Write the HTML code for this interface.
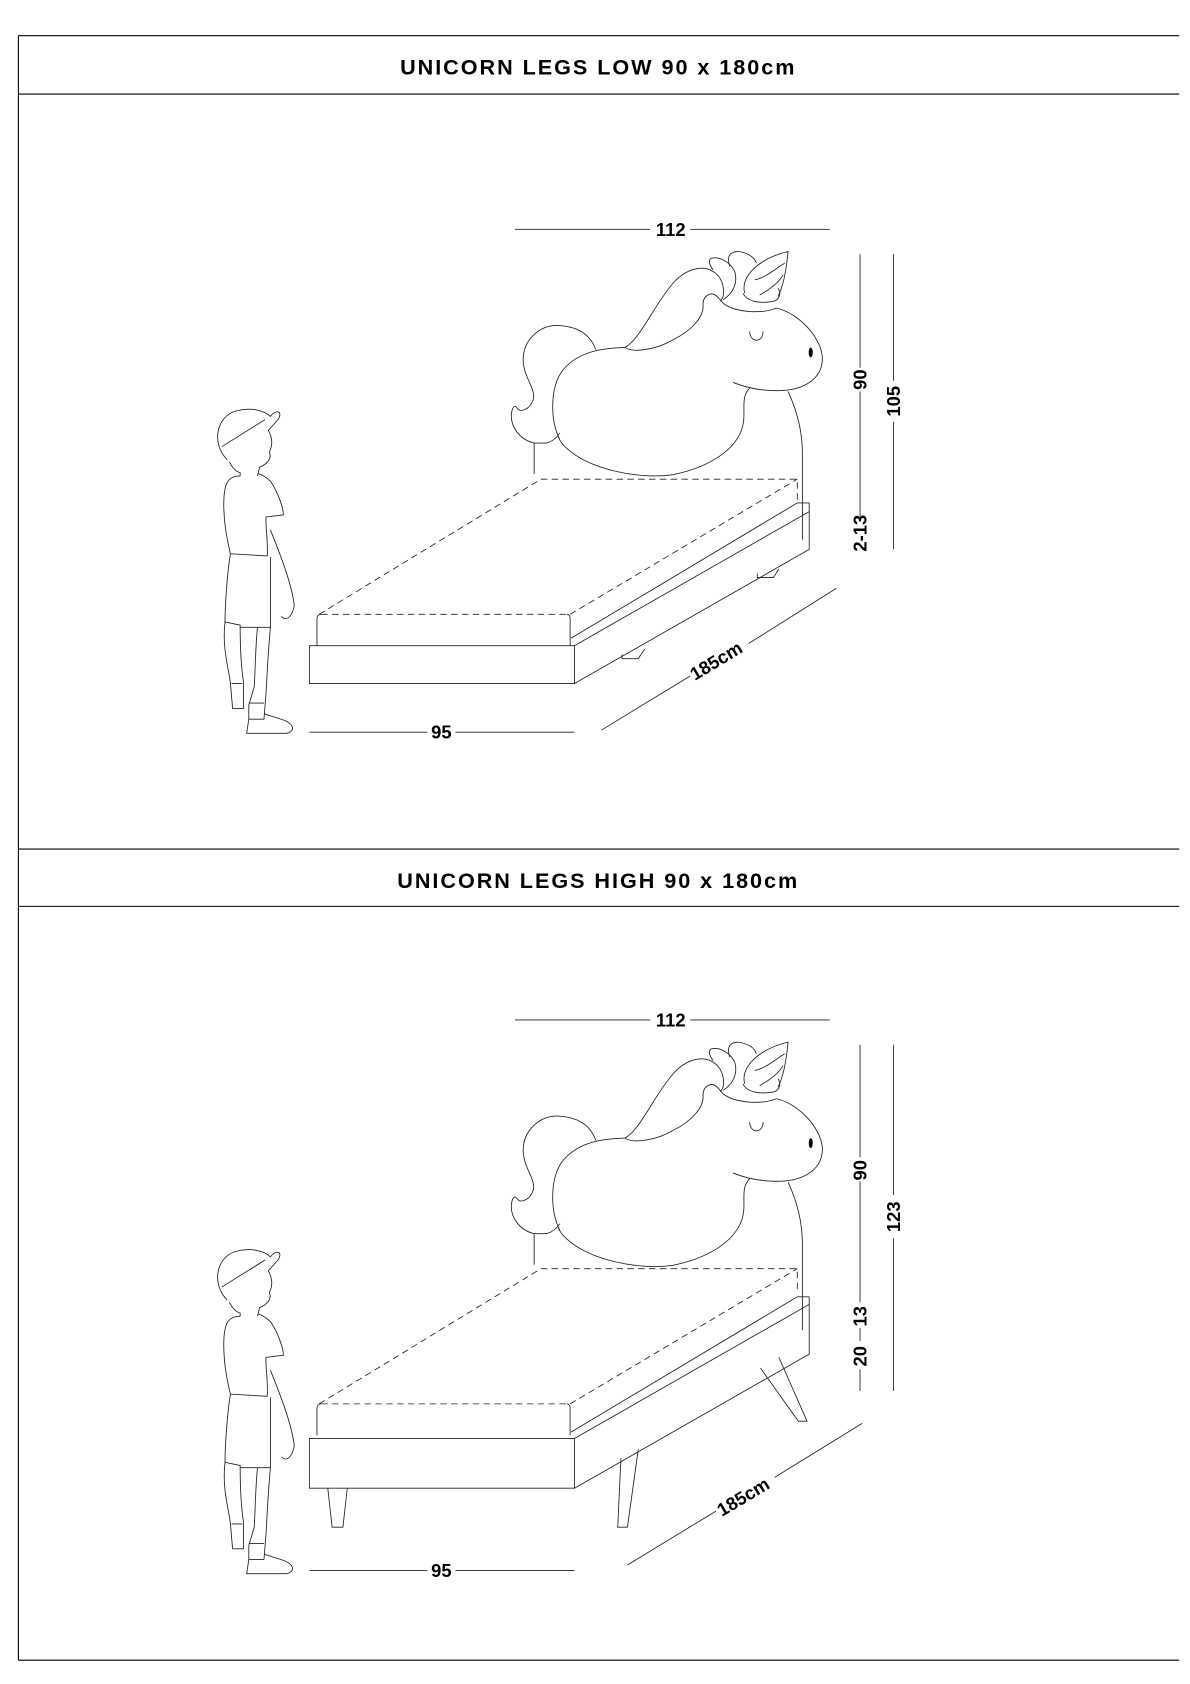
<!DOCTYPE html>
<html><head><meta charset="utf-8"><style>
html,body{margin:0;padding:0;background:#fff;}
svg{display:block;}
text{font-family:"Liberation Sans",sans-serif;font-weight:bold;fill:#000;}
</style></head><body>
<svg width="1190" height="1684" viewBox="0 0 1100 1557" preserveAspectRatio="none" xmlns="http://www.w3.org/2000/svg">
<defs>
<g id="uni" fill="none" stroke="#222" stroke-width="2.6">
  <path d="M283,823 L283,730 C240,720 210,680 215,640 C218,620 225,615 232,625 C240,640 270,630 280,600 C290,570 250,530 250,480 C250,420 300,375 355,377 C410,380 450,400 468,450"/>
  <path d="M283,730 L320,730 C340,725 352,712 360,700"/>
  <path d="M360,720 C330,660 330,560 370,510 C420,450 500,445 555,443 C600,420 640,320 700,250 C740,205 790,195 820,215 C845,230 855,260 850,290 L842,305"/>
  <path d="M555,443 C580,460 650,450 700,420 C760,390 790,350 790,320 C788,295 800,285 815,282 C830,282 840,300 850,310"/>
  <path d="M850,310 C880,335 960,345 1010,325 C1080,340 1150,420 1148,480 C1145,545 1080,578 990,572 C950,570 910,560 880,548"/>
  <path d="M930,565 C905,590 915,620 912,660 C905,740 820,800 700,825 C600,840 450,810 380,745 C368,735 360,725 355,710"/>
  <path d="M1045,575 C1075,640 1088,700 1088,760 L1088,1020"/>
  <path d="M850,300 C880,280 895,250 885,215 C870,185 840,170 815,175 C805,180 808,195 820,210"/>
  <path d="M870,200 C860,170 870,155 895,155 C930,160 945,175 950,190"/>
  <path d="M915,280 C900,230 960,175 1045,155 C1040,210 1030,260 1015,290"/>
  <path d="M910,280 C920,305 960,312 1000,305 C1020,300 1025,280 1015,265"/>
  <path d="M945,240 C975,235 1010,205 1035,190 M960,285 C990,270 1020,245 1030,225"/>
  <path d="M930,395 C930,430 970,430 970,395"/>
  <ellipse cx="1113" cy="458" rx="6" ry="15" fill="#000" stroke="none"/>
</g>
<g id="boy" fill="none" stroke="#222" stroke-width="0.8">
  <path d="M210,425 C195,410 200,385 218,380 C232,376 245,380 250,385 C255,378 262,380 257,388 L248,398 C252,405 252,412 249,418 C252,425 245,430 240,432 L238,440"/>
  <path d="M205,413 L245,388"/>
  <path d="M212,427 C215,433 218,436 222,437 L222,440"/>
  <path d="M222,440 C212,440 208,445 207,460 C206,480 210,500 213,512 L247,514 C248,500 245,485 246,478 L262,476 C262,470 257,455 250,445 C245,440 240,438 238,438"/>
  <path d="M213,512 C210,530 208,560 208,575 L222,578 L222,580 L250,580 L250,515"/>
  <path d="M250,490 C258,510 270,540 272,560 C270,570 265,575 260,570"/>
  <path d="M208,575 C205,600 212,620 213,632 L215,655 L225,655 L225,630 C222,610 222,590 222,580 M238,580 C236,600 236,620 235,635 L230,652 L230,665 L244,665 L246,640 C247,620 248,600 250,580"/>
  <path d="M214,632 L224,632 M230,650 L244,650"/>
  <path d="M230,665 L228,678 L265,678 C275,675 270,668 260,665 L244,660"/>
</g>
</defs>

<g stroke="#000" stroke-width="1" fill="none">
  <path d="M17,33 L17,1535 M17,33 L1090,33 M17,87 L1090,87 M17,785 L1090,785 M17,838 L1090,838 M17,1535 L1090,1535"/>
</g>
<text x="553" y="69" font-size="20" text-anchor="middle" letter-spacing="1.8">UNICORN LEGS LOW 90 x 180cm</text>
<text x="553" y="821" font-size="20" text-anchor="middle" letter-spacing="1.8">UNICORN LEGS HIGH 90 x 180cm</text>

<g>
<use href="#uni" transform="translate(406.6,184.8) scale(0.308)"/>
<g fill="none" stroke="#222" stroke-width="0.8">
  <path d="M293,597 L293,572 Q293,568 297,568 M527,597 L527,572 Q527,568 524,568" />
  <path d="M297,568 L524,568 M295,568 L500,443 L737,443 L737,465 M527,568 L737,443" stroke-dasharray="6,4"/>
  <path d="M286,597 L531,597 L531,632 L286,632 Z"/>
  <path d="M528,590 L737,465 L748,465 M531,597 L748,473 M531,632 L748,508 L748,465"/>
  <path d="M575,605 L575,609 L590,609 L596,600 M700,530 L700,534 L715,534 L720,526"/>
  <path d="M476,212 L601,212 M638,212 L767,212"/>
  <path d="M795,235 L795,340 M795,362 L795,482 M826,235 L826,352 M826,390 L826,508"/>
  <path d="M556,675 L638,625 M692,595 L773,544"/>
  <path d="M286,677 L395,677 M421,677 L531,677"/>
</g>
<text x="620" y="218" font-size="17" text-anchor="middle">112</text>
<text transform="translate(801,351) rotate(-90)" font-size="17" text-anchor="middle">90</text>
<text transform="translate(801,493) rotate(-90)" font-size="17" text-anchor="middle">2-13</text>
<text transform="translate(832,371) rotate(-90)" font-size="17" text-anchor="middle">105</text>
<text transform="translate(665,616) rotate(-31)" font-size="17" text-anchor="middle">185cm</text>
<text x="408" y="683" font-size="17" text-anchor="middle">95</text>
<use href="#boy"/>
</g>

<g>
<use href="#uni" transform="translate(406.6,915.8) scale(0.308)"/>
<g transform="translate(0,730)" fill="none" stroke="#222" stroke-width="0.8">
  <path d="M293,597 L293,572 Q293,568 297,568 M527,597 L527,572 Q527,568 524,568" />
  <path d="M297,568 L524,568 M295,568 L500,443 L737,443 L737,465 M527,568 L737,443" stroke-dasharray="6,4"/>
  <path d="M286,600 L531,600 L531,646 L286,646 Z"/>
  <path d="M528,594 L737,469 L748,469 M531,600 L748,476 M531,646 L748,522 L748,469"/>
  <path d="M303,646 L307,682 L317,682 L321,646"/>
  <path d="M574,618 L571,682 L580,682 L590,610"/>
  <path d="M703,535 L738,584 L746,584 L720,525"/>
</g>
<g fill="none" stroke="#222" stroke-width="0.8">
  <path d="M476,943 L601,943 M638,943 L767,943"/>
  <path d="M795,966 L795,1070 M795,1092 L795,1204 M795,1228 L795,1240 M795,1266 L795,1286 M826,966 L826,1105 M826,1145 L826,1286"/>
  <path d="M580,1447 L662,1397 M716,1366 L797,1316"/>
  <path d="M286,1452 L395,1452 M421,1452 L531,1452"/>
</g>
<text x="620" y="949" font-size="17" text-anchor="middle">112</text>
<text transform="translate(801,1082) rotate(-90)" font-size="17" text-anchor="middle">90</text>
<text transform="translate(801,1217) rotate(-90)" font-size="17" text-anchor="middle">13</text>
<text transform="translate(801,1254) rotate(-90)" font-size="17" text-anchor="middle">20</text>
<text transform="translate(832,1125) rotate(-90)" font-size="17" text-anchor="middle">123</text>
<text transform="translate(690,1389) rotate(-31)" font-size="17" text-anchor="middle">185cm</text>
<text x="408" y="1458" font-size="17" text-anchor="middle">95</text>
<use href="#boy" transform="translate(0,777)"/>
</g>
</svg>
</body></html>
